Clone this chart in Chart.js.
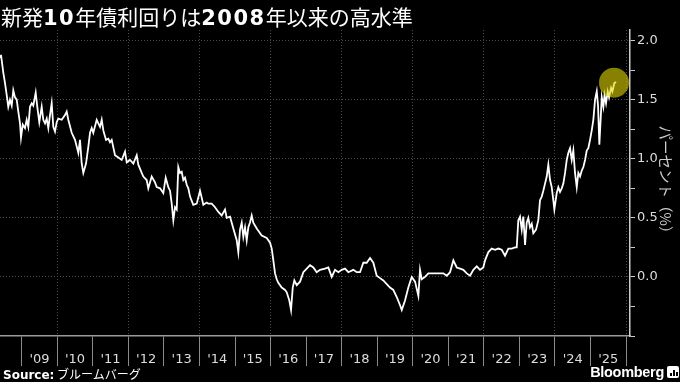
<!DOCTYPE html>
<html><head><meta charset="utf-8">
<script src="https://cdn.jsdelivr.net/npm/chart.js@4/dist/chart.umd.min.js"></script>
<style>
html,body{margin:0;padding:0;background:#000;}
#wrap{position:relative;width:680px;height:382px;overflow:hidden;background:#000;}
#c{position:absolute;left:0;top:0;}
#title{position:absolute;left:1px;top:2px;color:#fff;font-family:"Noto Sans CJK JP";font-size:21px;white-space:nowrap;line-height:28px;}
#title b{font-family:"DejaVu Sans";font-weight:bold;letter-spacing:1.5px;}
#src{position:absolute;left:3px;top:366px;color:#fff;font-family:"Noto Sans CJK JP";font-size:12px;line-height:16px;white-space:nowrap;}
#src b{font-family:"DejaVu Sans";font-weight:bold;}
#bb{position:absolute;right:16px;top:363px;color:#fff;font-family:"Liberation Sans";font-weight:bold;font-size:14.5px;line-height:18px;letter-spacing:-0.3px;}
#ico{position:absolute;right:1px;top:366px;width:12px;height:12px;background:#fff;border-radius:2px;}
#ico i{position:absolute;bottom:2px;width:2px;background:#000;}
</style></head>
<body><div id="wrap">
<canvas id="c" width="680" height="382"></canvas>
<div id="title">新発<b>10</b>年債利回りは<b>2008</b>年以来の高水準</div>
<div id="src"><b>Source:</b> ブルームバーグ</div>
<div id="bb">Bloomberg</div>
<div id="ico"><i style="left:3px;height:3px"></i><i style="left:6px;height:6px"></i><i style="left:9px;height:4px"></i></div>
</div>
<script>
const dates = [2008.390,2008.418,2008.483,2008.531,2008.578,2008.623,2008.671,2008.719,2008.764,2008.812,2008.860,2008.905,2008.953,2008.981,
2009.029,2009.093,2009.141,2009.186,2009.234,2009.282,2009.327,2009.394,2009.439,2009.495,2009.563,2009.608,2009.656,2009.704,2009.749,2009.796,2009.844,2009.889,2009.937,2009.985,
2010.030,2010.126,2010.218,2010.266,2010.311,2010.407,2010.500,2010.593,2010.640,2010.688,2010.733,2010.809,2010.874,2010.922,2010.969,
2011.014,2011.110,2011.203,2011.251,2011.296,2011.372,2011.436,2011.484,2011.532,2011.625,2011.718,2011.813,2011.906,2011.954,
2012.047,2012.140,2012.235,2012.280,2012.376,2012.421,2012.516,2012.561,2012.657,2012.750,2012.798,2012.891,2012.983,
2013.051,2013.124,2013.172,2013.220,2013.265,2013.313,2013.360,2013.405,2013.453,2013.501,2013.546,2013.594,2013.642,2013.687,2013.735,2013.827,2013.923,
2014.016,2014.064,2014.109,2014.204,2014.249,2014.345,2014.438,2014.531,2014.626,2014.719,2014.767,2014.860,2014.953,
2015.048,2015.093,2015.141,2015.189,2015.234,2015.282,2015.329,2015.375,2015.422,2015.470,2015.515,2015.611,2015.751,2015.892,2015.985,
2016.033,2016.078,2016.126,2016.173,2016.218,2016.314,2016.408,2016.455,2016.528,2016.576,2016.624,2016.669,2016.736,2016.829,2016.922,
2017.017,2017.110,2017.203,2017.298,2017.391,2017.532,2017.625,2017.720,2017.813,2017.906,
2018.002,2018.095,2018.187,2018.328,2018.424,2018.516,2018.609,2018.705,2018.798,2018.891,2018.986,
2019.079,2019.172,2019.268,2019.360,2019.453,2019.549,2019.642,2019.690,2019.782,2019.875,2019.971,
2020.064,2020.157,2020.204,2020.252,2020.345,2020.438,2020.579,2020.719,2020.860,2020.956,
2021.048,2021.141,2021.237,2021.329,2021.422,2021.518,2021.611,2021.704,2021.799,2021.892,2021.985,
2022.033,2022.126,2022.221,2022.314,2022.407,2022.502,2022.595,2022.688,2022.784,2022.876,2022.924,2022.969,
2023.017,2023.065,2023.110,2023.158,2023.205,2023.250,2023.298,2023.346,2023.391,2023.467,2023.531,2023.579,2023.627,2023.672,2023.720,2023.768,2023.813,2023.861,2023.908,2023.953,2023.982,
2024.049,2024.094,2024.142,2024.190,2024.235,2024.283,2024.331,2024.376,2024.424,2024.471,2024.516,2024.564,2024.612,2024.657,2024.705,2024.753,2024.798,2024.846,2024.893,2024.938,2024.986,
2025.034,2025.079,2025.127,2025.175,2025.211,2025.248,2025.287,2025.316,2025.361,2025.394,2025.436,2025.484,2025.521,2025.577,2025.614,2025.670,2025.718];

const yields = [1.86,1.88,1.73,1.64,1.54,1.44,1.50,1.45,1.58,1.52,1.50,1.40,1.30,1.18,
1.29,1.26,1.33,1.27,1.44,1.47,1.45,1.56,1.44,1.31,1.44,1.33,1.30,1.34,1.26,1.37,1.47,1.27,1.23,1.31,
1.34,1.33,1.37,1.40,1.33,1.22,1.16,1.05,1.16,0.96,0.88,0.96,1.10,1.22,1.26,
1.22,1.33,1.27,1.33,1.24,1.16,1.17,1.14,1.16,1.03,1.01,0.99,1.06,0.97,
0.99,0.96,1.03,0.95,0.88,0.85,0.82,0.75,0.85,0.80,0.76,0.75,0.71,
0.84,0.76,0.73,0.62,0.48,0.59,0.57,0.93,0.88,0.89,0.82,0.84,0.78,0.75,0.68,0.61,0.62,
0.73,0.67,0.61,0.63,0.62,0.62,0.59,0.55,0.52,0.57,0.50,0.51,0.41,
0.31,0.21,0.40,0.46,0.34,0.42,0.31,0.42,0.46,0.52,0.46,0.41,0.35,0.33,0.29,
0.24,0.14,0.03,-0.02,-0.05,-0.09,-0.11,-0.13,-0.20,-0.28,-0.09,-0.03,-0.07,-0.04,0.04,
0.07,0.10,0.08,0.04,0.06,0.07,0.08,0.00,0.06,0.04,
0.06,0.07,0.04,0.06,0.04,0.04,0.12,0.12,0.16,0.12,0.01,
-0.01,-0.03,-0.06,-0.09,-0.11,-0.17,-0.24,-0.28,-0.20,-0.09,0.00,
-0.04,-0.16,0.06,-0.02,0.00,0.03,0.03,0.03,0.03,0.01,
0.04,0.14,0.08,0.07,0.06,0.03,0.01,0.06,0.09,0.06,0.08,
0.14,0.21,0.24,0.23,0.24,0.23,0.18,0.24,0.24,0.25,0.25,0.48,
0.51,0.40,0.51,0.27,0.46,0.50,0.42,0.45,0.37,0.40,0.48,0.65,0.68,0.73,0.79,0.85,0.95,0.82,0.76,0.65,0.57,
0.71,0.76,0.72,0.75,0.79,0.88,0.99,1.05,1.09,0.99,1.07,0.88,0.76,0.88,0.85,0.90,0.93,0.99,1.07,1.09,1.16,
1.24,1.33,1.50,1.57,1.45,1.12,1.35,1.52,1.44,1.54,1.47,1.57,1.52,1.60,1.57,1.64,1.65];

const yearBoundaries = [2009,2010,2011,2012,2013,2014,2015,2016,2017,2018,2019,2020,2021,2022,2023,2024,2025,2026];
const yearLabels = ["'09","'10","'11","'12","'13","'14","'15","'16","'17","'18","'19","'20","'21","'22","'23","'24","'25"];
const yTickValues = [-0.5,-0.25,0,0.25,0.5,0.75,1.0,1.25,1.5,1.75,2.0];
const yLabelValues = [0,0.5,1.0,1.5,2.0];
const highlightDate = [2025.66];
const highlightYield = [1.644];

const xTicks = [];
yearBoundaries.forEach((y,i)=>{ xTicks.push(y); if(i<yearLabels.length) xTicks.push(y+0.5); });
const isInt = v => Math.abs(v-Math.round(v))<1e-6;
const labelFor = v => { if (isInt(v)) return ''; const i = yearBoundaries.indexOf(Math.round(v-0.5)); return i>=0 && i<yearLabels.length ? yearLabels[i] : ''; };

new Chart(document.getElementById('c'), {
  type:'line',
  data:{datasets:[
    {type:'scatter', data: highlightDate.map((d,i)=>({x:d,y:highlightYield[i]})), pointRadius:15, pointHoverRadius:15,
     backgroundColor:'rgba(226,214,0,0.6)', borderWidth:0, pointBorderWidth:0, clip:false},
    {data: dates.map((d,i)=>({x:d,y:yields[i]})), borderColor:'#ffffff', borderWidth:1.8, pointRadius:0, tension:0, fill:false}
  ]},
  options:{
    responsive:false, animation:false, events:[],
    layout:{autoPadding:false, padding:{top:30,left:0,right:0,bottom:0}},
    plugins:{legend:{display:false}, tooltip:{enabled:false}},
    scales:{
      x:{type:'linear', position:'bottom', min:2008.39, max:2026.11,
        afterBuildTicks: ax => { ax.ticks = xTicks.map(v=>({value:v})); },
        afterFit: ax => { ax.height = 46; },
        border:{display:true, color:'#9a9a9a', width:1.5, dash:[1,2]},
        grid:{drawOnChartArea:true, tickLength:30, lineWidth:1,
          color: ctx => { const v = ctx.tick ? ctx.tick.value : 0; return (isInt(v) && Math.round(v)%2===0) ? '#4a4a4a' : 'rgba(0,0,0,0)'; },
          tickColor: ctx => { const v = ctx.tick ? ctx.tick.value : 0; return isInt(v) ? '#8a8a8a' : 'rgba(0,0,0,0)'; },
          tickBorderDash:[]},
        ticks:{autoSkip:false, maxRotation:0, padding:-14, color:'#dddddd', font:{family:'DejaVu Sans', size:13},
          callback: v => labelFor(v)}
      },
      y:{type:'linear', position:'right', min:-0.5, max:2.09,
        afterBuildTicks: ax => { ax.ticks = yTickValues.map(v=>({value:v})); },
        afterFit: ax => { ax.width = 50; },
        border:{display:true, color:'#cccccc', width:1.5, dash:[1,2]},
        grid:{drawOnChartArea:true, tickLength:5, lineWidth:1,
          color: ctx => { const v = ctx.tick ? ctx.tick.value : 0; return (yLabelValues.some(l=>Math.abs(l-v)<1e-6)) ? '#4a4a4a' : 'rgba(0,0,0,0)'; },
          tickColor:'#cccccc', tickBorderDash:[]},
        ticks:{padding:2, color:'#dddddd', font:{family:'DejaVu Sans', size:13},
          callback: v => yLabelValues.some(l=>Math.abs(l-v)<1e-6) ? v.toFixed(1) : ''},
        title:{display:true, text:'パーセント（%）', color:'#cccccc', font:{family:'Noto Sans CJK JP', size:14.5}, padding:{top:6,bottom:0}}
      }
    }
  }
});
</script>
</body></html>
